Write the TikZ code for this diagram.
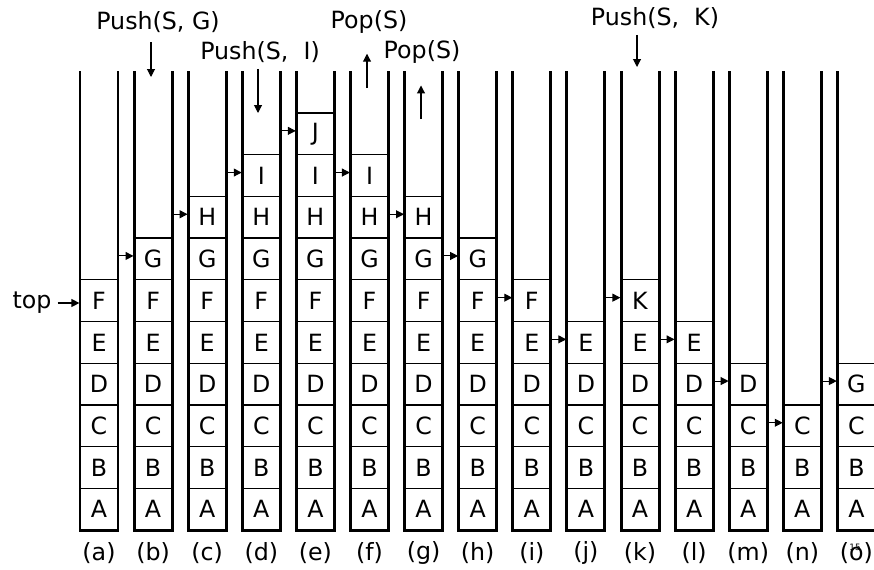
\documentclass[tikz,border=0pt]{standalone}
\usepackage{fontspec}
\setmainfont{DejaVu Sans}
\usetikzlibrary{arrows.meta}

\tikzset{
  lbl/.style={font=\fontsize{13.5}{16}\selectfont},
  cell/.style={draw, line width=0.7pt, minimum width=0.76cm, minimum height=0.834cm, inner sep=0pt, lbl},
  wall/.style={line width=1.7pt},
  hop/.style={-{Triangle[length=4.5pt,width=4.5pt]}, line width=0.6pt},
}

\begin{document}
\begin{tikzpicture}[x=0.02cm,y=0.02cm]
\useasboundingbox (0,0) rectangle (874,569);

% stacks, bottom element first
\foreach \lab/\items [count=\i from 0] in {
  a/{A,B,C,D,E,F}, b/{A,B,C,D,E,F,G}, c/{A,B,C,D,E,F,G,H},
  d/{A,B,C,D,E,F,G,H,I}, e/{A,B,C,D,E,F,G,H,I,J}, f/{A,B,C,D,E,F,G,H,I},
  g/{A,B,C,D,E,F,G,H}, h/{A,B,C,D,E,F,G}, i/{A,B,C,D,E,F},
  j/{A,B,C,D,E}, k/{A,B,C,D,E,K}, l/{A,B,C,D,E}, m/{A,B,C,D},
  n/{A,B,C}, o/{A,B,C,G}} {
  \pgfmathsetmacro\xl{80+54.1*\i}
  \foreach \c [count=\r from 0] in \items {
    \node[cell] (\lab\r) at (\xl+19,59.85+41.7*\r) {\c};
    \xdef\toprow{\r}
  }
  \draw[wall] (\xl,497.7) -- (\xl,39) -- (\xl+38,39) -- (\xl+38,497.7);
  \node[lbl] (cap\lab) at (\xl+19,16) {(\lab)};
  % arrow from the previous stack to the new top
  \ifnum\i>0
    \draw[hop] ([xshift=-0.32cm,yshift=0.06cm]\lab\toprow.west) -- ([yshift=0.06cm]\lab\toprow.west);
  \fi
}

\node[lbl] (toptext) at (32,266) {top};
\draw[hop] (toptext.east) -- (toptext.east -| a5.west);

% operations
\node[lbl] (pushG) at (158,547) {Push(S, G)};
\coordinate (tipG) at (151,492);
\draw[hop, shorten <=2pt] (pushG.south -| tipG) -- (tipG);

\node[lbl] (pushI) at (260,517) {Push(S,~~I)};
\coordinate (tipI) at (258,456);
\draw[hop] (pushI.south -| tipI) -- (tipI);

\node[lbl] (popA) at (369,547) {Pop(S)};
\coordinate (baseA) at (367,481);
\draw[hop, shorten >=8pt] (baseA) -- (baseA |- popA.south);

\node[lbl] (popB) at (422,517) {Pop(S)};
\coordinate (baseB) at (421,450);
\draw[hop, shorten >=9pt] (baseB) -- (baseB |- popB.south);

\node[lbl] (pushK) at (655,551) {Push(S,~~K)};
\coordinate (tipK) at (637,502);
\draw[hop] (pushK.south -| tipK) -- (tipK);

\node[font=\fontsize{5}{6}\selectfont] (slide) at (855,22) {15};

\end{tikzpicture}
\end{document}
